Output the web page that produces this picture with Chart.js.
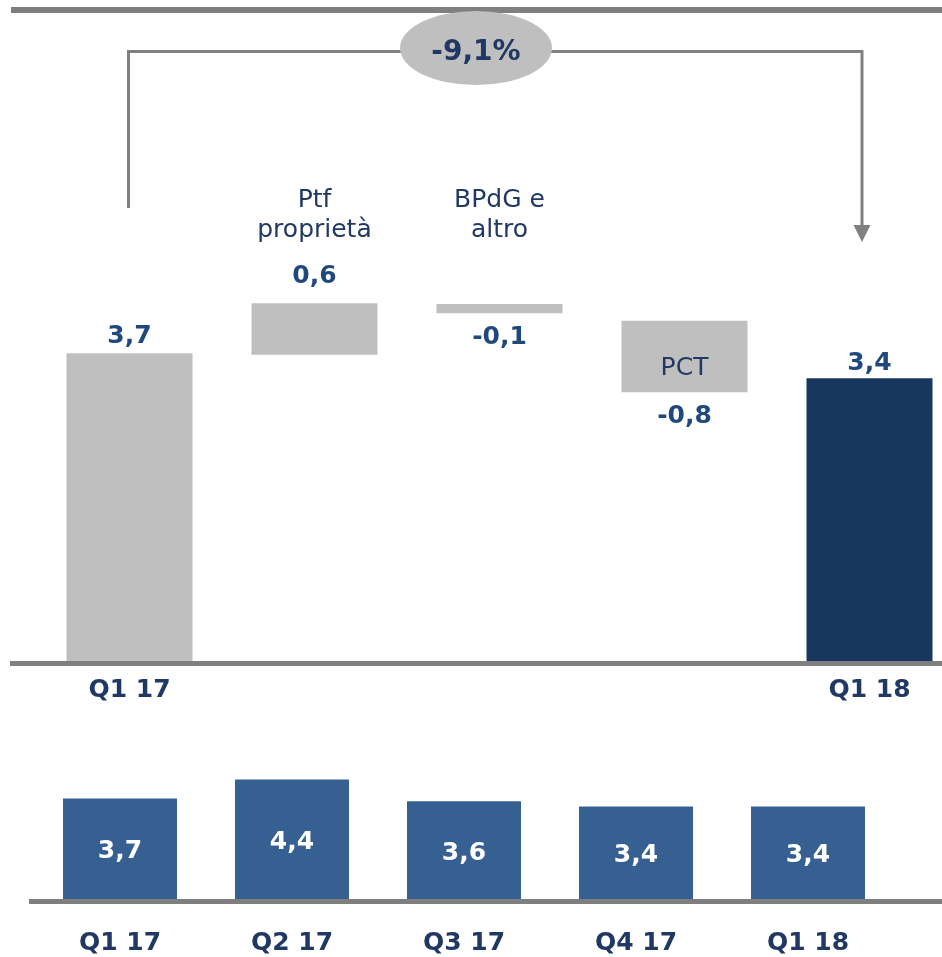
<!DOCTYPE html>
<html>
<head>
<meta charset="utf-8">
<script src="https://cdn.jsdelivr.net/npm/chart.js@4.4.1/dist/chart.umd.min.js"></script>
<style>
html,body{margin:0;padding:0;background:#fff;overflow:hidden;width:942px;height:957px;}
#topChart{position:absolute;left:0;top:0;}
#botChart{position:absolute;left:0;top:740px;}
</style>
</head>
<body>
<canvas id="topChart" width="962" height="720"></canvas>
<canvas id="botChart" width="942" height="217"></canvas>
<script>
// ---------- data ----------
const topCategories = ['Q1 17', 'Ptf proprietà', 'BPdG e altro', 'PCT', 'Q1 18'];
const topAxisLabels = ['Q1 17', '', '', '', 'Q1 18'];
const topBarStart = [0, 3.68, 4.18, 3.23, 0];
const topBarEnd = [3.7, 4.30, 4.29, 4.09, 3.4];
const topValueLabels = ['3,7', '0,6', '-0,1', '-0,8', '3,4'];
const topNamesAbove = [[], ['Ptf', 'proprietà'], ['BPdG e', 'altro'], [], []];
const topNamesInside = ['', '', '', 'PCT', ''];
const changeLabel = '-9,1%';

const bottomCategories = ['Q1 17', 'Q2 17', 'Q3 17', 'Q4 17', 'Q1 18'];
const bottomValues = [3.7, 4.4, 3.6, 3.4, 3.4];
const bottomValueLabels = ['3,7', '4,4', '3,6', '3,4', '3,4'];

// ---------- styles ----------
const GRAY = '#BFBFBF';
const NAVY = '#17375E';
const BLUE = '#376092';
const LINE = '#7F7F7F';
const TXT = '#1F3864';
const VAL = '#1F497D';
const FONT = '"DejaVu Sans", Verdana, sans-serif';

const topData = topBarStart.map((s, i) => [s, topBarEnd[i]]);

const topPlugin = {
  id: 'topDecor',
  afterDatasetsDraw(chart) {
    const ctx = chart.ctx;
    const meta = chart.getDatasetMeta(0);
    const y = chart.scales.y;
    const base = y.getPixelForValue(0);
    ctx.save();
    // top rule
    ctx.fillStyle = LINE;
    ctx.fillRect(11, 7, chart.width, 6);
    // baseline
    ctx.fillRect(10, base, chart.width, 5);

    // bracket
    const x1 = meta.data[0].x - 1;
    const x2 = meta.data[4].x - 7.5;
    ctx.strokeStyle = '#808080';
    ctx.lineWidth = 3;
    ctx.beginPath();
    ctx.moveTo(x1, 208);
    ctx.lineTo(x1, 51.5);
    ctx.lineTo(x2, 51.5);
    ctx.lineTo(x2, 228);
    ctx.stroke();
    ctx.fillStyle = '#808080';
    ctx.beginPath();
    ctx.moveTo(x2 - 8.5, 225);
    ctx.lineTo(x2 + 8.5, 225);
    ctx.lineTo(x2, 242);
    ctx.closePath();
    ctx.fill();
    // ellipse
    ctx.fillStyle = GRAY;
    ctx.beginPath();
    ctx.ellipse(476, 48, 76, 37, 0, 0, Math.PI * 2);
    ctx.fill();
    ctx.fillStyle = TXT;
    ctx.font = 'bold 28px ' + FONT;
    ctx.textAlign = 'center';
    ctx.textBaseline = 'alphabetic';
    ctx.fillText(changeLabel, 476, 60);

    // value labels
    const gapsAbove = [10, 20, 0, 0, 8];
    ctx.font = 'bold 25px ' + FONT;
    ctx.fillStyle = VAL;
    meta.data.forEach((bar, i) => {
      const neg = topValueLabels[i].startsWith('-');
      const top = Math.min(bar.y, bar.base);
      const bottom = Math.max(bar.y, bar.base);
      if (neg) {
        ctx.fillText(topValueLabels[i], bar.x, bottom + 31);
      } else {
        ctx.fillText(topValueLabels[i], bar.x, top - gapsAbove[i]);
      }
    });
    // category names
    ctx.font = '25px ' + FONT;
    ctx.fillStyle = TXT;
    meta.data.forEach((bar, i) => {
      topNamesAbove[i].forEach((ln, k) => {
        ctx.fillText(ln, bar.x, 207 + k * 30);
      });
      if (topNamesInside[i]) {
        ctx.fillText(topNamesInside[i], bar.x, 375);
      }
    });
    ctx.restore();
  }
};

new Chart(document.getElementById('topChart'), {
  type: 'bar',
  data: {
    labels: topAxisLabels,
    datasets: [{
      data: topData,
      backgroundColor: [GRAY, GRAY, GRAY, GRAY, NAVY],
      borderWidth: 0,
      barPercentage: 0.681,
      categoryPercentage: 1
    }]
  },
  options: {
    responsive: false,
    devicePixelRatio: 1,
    animation: false,
    layout: { padding: { left: 37, right: 0, top: 0, bottom: 0 } },
    plugins: { legend: { display: false }, tooltip: { enabled: false } },
    scales: {
      x: {
        grid: { display: false },
        border: { display: false },
        ticks: {
          color: TXT,
          font: { family: FONT, size: 25, weight: 'bold' },
          padding: 6,
          maxRotation: 0,
          autoSkip: false
        },
        afterFit(scale) { scale.height = 59; }
      },
      y: { display: false, min: 0, max: 7.945 }
    }
  },
  plugins: [topPlugin]
});

const botPlugin = {
  id: 'botDecor',
  afterDatasetsDraw(chart) {
    const ctx = chart.ctx;
    const meta = chart.getDatasetMeta(0);
    const base = chart.scales.y.getPixelForValue(0);
    ctx.save();
    ctx.fillStyle = LINE;
    ctx.fillRect(29, base, chart.width, 5);
    ctx.fillStyle = '#FFFFFF';
    ctx.font = 'bold 25px ' + FONT;
    ctx.textAlign = 'center';
    ctx.textBaseline = 'middle';
    meta.data.forEach((bar, i) => {
      ctx.fillText(bottomValueLabels[i], bar.x, (bar.y + bar.base) / 2 + 3);
    });
    ctx.restore();
  }
};

new Chart(document.getElementById('botChart'), {
  type: 'bar',
  data: {
    labels: bottomCategories,
    datasets: [{
      data: bottomValues,
      backgroundColor: BLUE,
      borderWidth: 0,
      barPercentage: 0.663,
      categoryPercentage: 1
    }]
  },
  options: {
    responsive: false,
    devicePixelRatio: 1,
    animation: false,
    layout: { padding: { left: 34, right: 48, top: 0, bottom: 0 } },
    plugins: { legend: { display: false }, tooltip: { enabled: false } },
    scales: {
      x: {
        grid: { display: false },
        border: { display: false },
        ticks: {
          color: TXT,
          font: { family: FONT, size: 25, weight: 'bold' },
          padding: 21,
          maxRotation: 0,
          autoSkip: false
        },
        afterFit(scale) { scale.height = 58; }
      },
      y: { display: false, min: 0, max: 5.85 }
    }
  },
  plugins: [botPlugin]
});
</script>
</body>
</html>
